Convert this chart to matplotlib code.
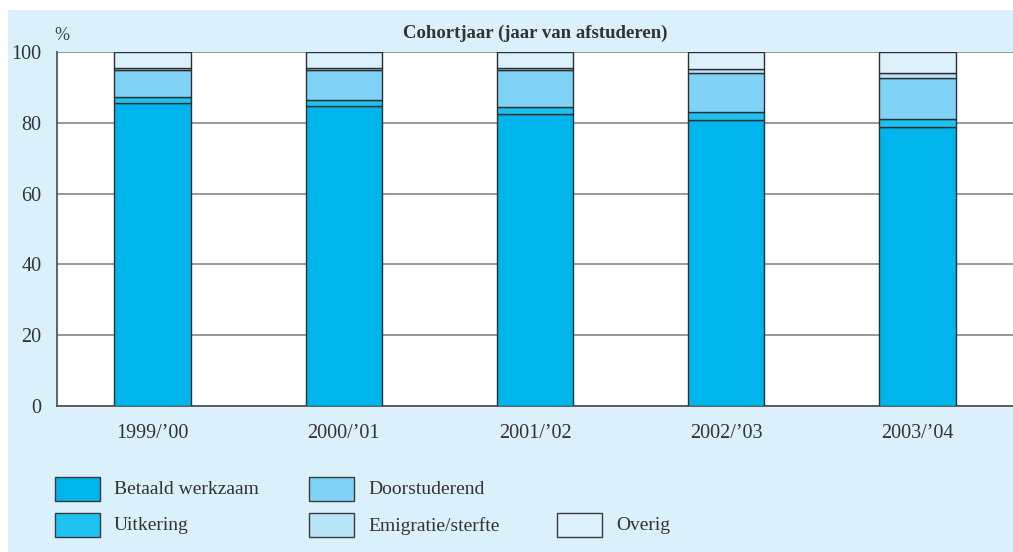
import matplotlib
matplotlib.use("Agg")
import matplotlib.pyplot as plt
from matplotlib.patches import Rectangle
import numpy as np

plt.rcParams['font.family'] = ['Liberation Serif', 'DejaVu Serif']

jaren = ["1999/\u201900", "2000/\u201901", "2001/\u201902", "2002/\u201903", "2003/\u201904"]
betaald = [85.6, 84.8, 82.6, 80.8, 78.9]
uitkering = [1.7, 1.6, 1.9, 2.2, 2.2]
doorstuderend = [7.55, 8.45, 10.35, 11.1, 11.5]
emigratie = [0.75, 0.75, 0.75, 1.1, 1.5]
overig = [4.4, 4.4, 4.4, 4.8, 5.9]

reeksen = [
    ("Betaald werkzaam", betaald, "#00b4ec"),
    ("Uitkering", uitkering, "#1ec2f1"),
    ("Doorstuderend", doorstuderend, "#80d3f6"),
    ("Emigratie/sterfte", emigratie, "#b9e5f8"),
    ("Overig", overig, "#dcf1fb"),
]

W, H = 1013, 552
fig = plt.figure(figsize=(W / 100, H / 100), dpi=100)
fig.patch.set_facecolor("white")

# lichtblauw kader
fig.add_artist(Rectangle((8 / W, 0), 1 - 8 / W, (H - 10) / H,
                         transform=fig.transFigure, facecolor="#daf0fb",
                         edgecolor="none", zorder=0))

ax = fig.add_axes([57 / W, (H - 406) / H, (W - 57) / W, 354 / H])
ax.set_facecolor("white")

x = np.arange(len(jaren))
bodem = np.zeros(len(jaren))
for naam, waarden, kleur in reeksen:
    ax.bar(x, waarden, 0.4, bottom=bodem, color=kleur, edgecolor="#2e2e2e",
           linewidth=1.0, zorder=3)
    bodem += np.array(waarden)

ax.set_xlim(-0.5, 4.5)
ax.set_ylim(0, 100)
ax.set_yticks([0, 20, 40, 60, 80, 100])
ax.set_xticks(x)
ax.set_xticklabels(jaren)
ax.tick_params(length=0, labelsize=14.5, colors="#333333")
ax.tick_params(axis="x", pad=13)
ax.tick_params(axis="y", pad=11)
ax.grid(axis="y", color="#909090", linewidth=1.3, zorder=1)
for s in ["top", "right"]:
    ax.spines[s].set_visible(False)
for s in ["left", "bottom"]:
    ax.spines[s].set_color("#555555")
    ax.spines[s].set_linewidth(1.3)

fig.text(535 / W, 1 - 33 / H, "Cohortjaar (jaar van afstuderen)", ha="center",
         va="center", fontsize=13.5, fontweight="bold", color="#333333")
fig.text(62 / W, 1 - 35 / H, "%", ha="center", va="center", fontsize=13,
         color="#444444")

# legenda
posities = [(55, 477), (55, 513), (309, 477), (309, 513), (557, 513)]
for (naam, waarden, kleur), (px, py) in zip(reeksen, posities):
    fig.add_artist(Rectangle((px / W, 1 - (py + 24) / H), 45 / W, 24 / H,
                             transform=fig.transFigure, facecolor=kleur,
                             edgecolor="#3a3a3a", linewidth=1.0))
    fig.text((px + 59) / W, 1 - (py + 13) / H, naam, ha="left", va="center",
             fontsize=14, color="#333333")

fig.savefig("out.png", dpi=100)
